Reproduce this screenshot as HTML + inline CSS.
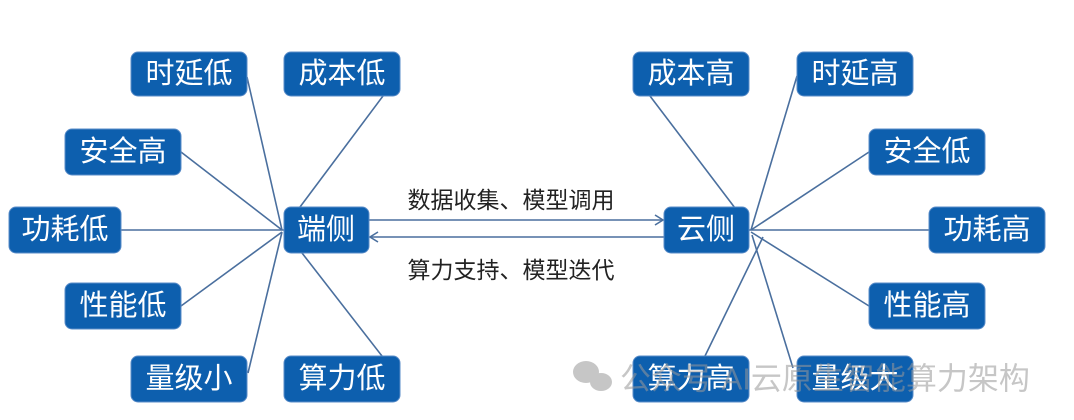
<!DOCTYPE html>
<html><head><meta charset="utf-8"><style>
html,body{margin:0;padding:0;background:#fff;}
svg{display:block;}
.b{fill:#0d5fae;stroke:#5a8cc8;stroke-width:1;}
.t{fill:#fff;font-family:"Liberation Sans","Noto Sans CJK SC",sans-serif;font-size:29px;text-anchor:middle;dominant-baseline:central;}
.l{stroke:#4a6f9e;stroke-width:1.6;fill:none;}
.m{fill:#222;font-family:"Liberation Sans","Noto Sans CJK SC",sans-serif;font-size:23px;text-anchor:middle;dominant-baseline:central;}
</style></head><body>
<svg width="1074" height="420" viewBox="0 0 1074 420" xmlns="http://www.w3.org/2000/svg">
<g class="l">
<line x1="247" y1="77" x2="282" y2="230"/>
<line x1="383" y1="96" x2="300" y2="207"/>
<line x1="181" y1="152" x2="282" y2="230"/>
<line x1="121" y1="230" x2="284" y2="230"/>
<line x1="181" y1="306" x2="282" y2="232"/>
<line x1="248" y1="373" x2="282" y2="232"/>
<line x1="382" y1="356" x2="302" y2="253"/>
<line x1="650" y1="96" x2="735" y2="208"/>
<line x1="797" y1="76" x2="751" y2="230"/>
<line x1="869" y1="152" x2="751" y2="230"/>
<line x1="929" y1="230" x2="749" y2="230"/>
<line x1="869" y1="306" x2="751" y2="232"/>
<line x1="705" y1="356" x2="763" y2="237"/>
<line x1="793" y1="368" x2="752" y2="235"/>
<line x1="369" y1="220" x2="663" y2="220"/>
<polyline points="655,215 663,220 655,225"/>
<line x1="370" y1="237" x2="664" y2="237"/>
<polyline points="378,232 370,237 378,242"/>
</g>
<g>
<rect class="b" x="131" y="52" width="116" height="44" rx="7"/><text class="t" x="189" y="74">时延低</text>
<rect class="b" x="284" y="52" width="116" height="44" rx="7"/><text class="t" x="342" y="74">成本低</text>
<rect class="b" x="65" y="129" width="116" height="46" rx="7"/><text class="t" x="123" y="152">安全高</text>
<rect class="b" x="9" y="207" width="112" height="46" rx="7"/><text class="t" x="65" y="230">功耗低</text>
<rect class="b" x="284" y="207" width="85" height="46" rx="7"/><text class="t" x="326" y="230">端侧</text>
<rect class="b" x="65" y="283" width="116" height="46" rx="7"/><text class="t" x="123" y="306">性能低</text>
<rect class="b" x="131" y="356" width="116" height="46" rx="7"/><text class="t" x="189" y="379">量级小</text>
<rect class="b" x="284" y="356" width="116" height="46" rx="7"/><text class="t" x="342" y="379">算力低</text>
<rect class="b" x="633" y="52" width="116" height="44" rx="7"/><text class="t" x="691" y="74">成本高</text>
<rect class="b" x="797" y="52" width="116" height="44" rx="7"/><text class="t" x="855" y="74">时延高</text>
<rect class="b" x="869" y="129" width="116" height="46" rx="7"/><text class="t" x="927" y="152">安全低</text>
<rect class="b" x="929" y="207" width="116" height="46" rx="7"/><text class="t" x="987" y="230">功耗高</text>
<rect class="b" x="664" y="207" width="85" height="46" rx="7"/><text class="t" x="706" y="230">云侧</text>
<rect class="b" x="869" y="283" width="116" height="46" rx="7"/><text class="t" x="927" y="306">性能高</text>
<rect class="b" x="633" y="356" width="116" height="46" rx="7"/><text class="t" x="691" y="379">算力高</text>
<rect class="b" x="797" y="356" width="116" height="46" rx="7"/><text class="t" x="855" y="379">量级大</text>
</g>
<text class="m" x="511" y="200">数据收集、模型调用</text>
<text class="m" x="511" y="270">算力支持、模型迭代</text>
<g opacity="0.55" fill="#999">
<ellipse cx="586" cy="372" rx="13" ry="11"/>
<ellipse cx="601" cy="382" rx="11" ry="9"/>
<text x="620" y="379" font-family="'Liberation Sans','Noto Sans CJK SC',sans-serif" font-size="31" dominant-baseline="central">公众号 AI云原生智能算力架构</text>
</g>
</svg>
</body></html>
